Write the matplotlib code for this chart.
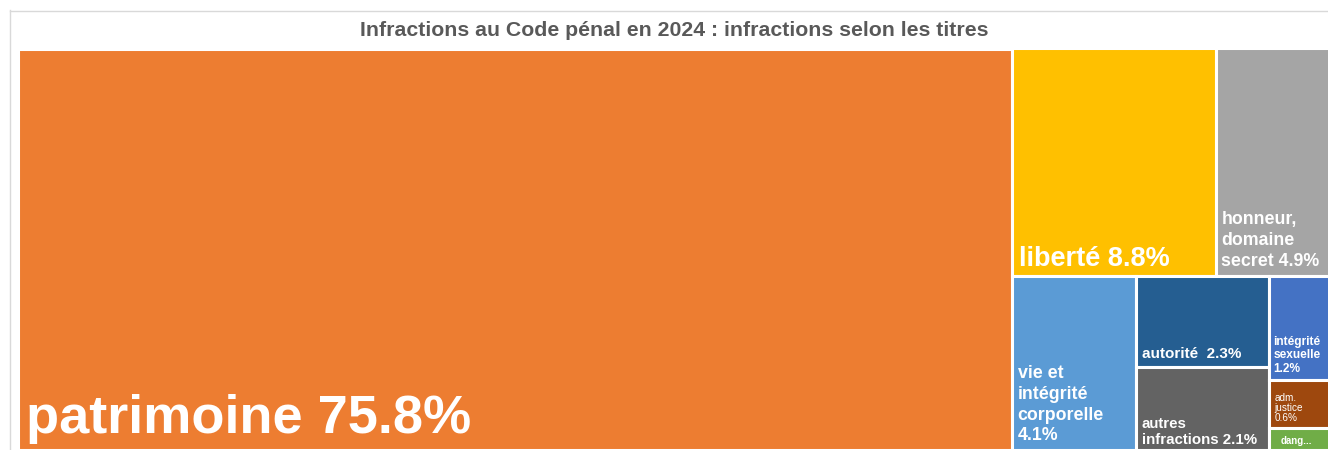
import matplotlib
matplotlib.use("Agg")
import matplotlib.pyplot as plt
from matplotlib.patches import Rectangle
from matplotlib.lines import Line2D

plt.rcParams['font.family'] = ['Liberation Sans', 'DejaVu Sans']

title = "Infractions au Code pénal en 2024 : infractions selon les titres"
names = ["patrimoine", "liberté", "honneur, domaine secret", "vie et intégrité corporelle",
         "autorité", "autres infractions", "intégrité sexuelle", "adm. justice", "dang..."]
values = [75.8, 8.8, 4.9, 4.1, 2.3, 2.1, 1.2, 0.55, 0.25]
labels = ["patrimoine 75.8%", "liberté 8.8%", "honneur,\ndomaine\nsecret 4.9%",
          "vie et\nintégrité\ncorporelle\n4.1%", "autorité  2.3%", "autres\ninfractions 2.1%",
          "intégrité\nsexuelle\n1.2%", "adm.\njustice\n0.6%", "dang..."]
colors = ["#ED7D31", "#FFC000", "#A5A5A5", "#5B9BD5", "#255E91", "#636363",
          "#4472C4", "#9E480E", "#70AD47"]
fsizes = [39, 19.5, 12.8, 12.8, 11, 10.8, 8.6, 7.2, 7]
weights = ["bold"] * 7 + ["normal", "bold"]
spacings = [1.2, 1.2, 1.3, 1.3, 1.2, 1.22, 1.15, 0.95, 1.2]
pads = [(6, 4), (5, 3), (4, 4), (4, 4), (4, 4), (4, 2), (3, 4), (4, 4), (8, 3)]

# nested slice structure (indices into values): ('h' = side by side, 'v' = stacked top->bottom)
structure = ('h', [0, ('v', [('h', [1, 2]), ('h', [3, ('v', [4, 5]), ('v', [6, 7, 8])])])])


def total(node):
    if isinstance(node, int):
        return values[node]
    return sum(total(c) for c in node[1])


def layout(node, x, y, w, h, out):
    if isinstance(node, int):
        out[node] = (x, y, w, h)
        return
    kind, children = node
    s = total(node)
    if kind == 'h':
        cx = x
        for c in children:
            cw = w * total(c) / s
            layout(c, cx, y, cw, h, out)
            cx += cw
    else:
        cy = y + h
        for c in children:
            ch = h * total(c) / s
            cy -= ch
            layout(c, x, cy, w, ch, out)


rects = {}
layout(structure, 0.0, 0.0, 1.0, 1.0, rects)

W, H = 1328, 450
fig = plt.figure(figsize=(W / 100, H / 100), dpi=100)
ax = fig.add_axes([17.5 / W, 0, 1312 / W, 401.5 / H])
ax.set_xlim(0, 1)
ax.set_ylim(0, 1)
ax.axis('off')

for i in range(len(values)):
    x, y, w, h = rects[i]
    ax.add_patch(Rectangle((x, y), w, h, facecolor=colors[i], edgecolor='white', lw=2.2))
    ax.annotate(labels[i], xy=(x, y), xytext=pads[i], textcoords='offset points',
                ha='left', va='bottom', color='white', fontsize=fsizes[i],
                fontweight=weights[i], linespacing=spacings[i], annotation_clip=False)

fig.text(674 / W, 1 - 31 / H, title, ha='center', va='center', fontsize=15.3,
         fontweight='bold', color='#595959')

fig.add_artist(Line2D([9.5 / W, 9.5 / W], [0, 1 - 10 / H], color='#d9d9d9', lw=1))
fig.add_artist(Line2D([9.5 / W, 1], [1 - 10.5 / H, 1 - 10.5 / H], color='#d9d9d9', lw=1))

fig.savefig("out.png", dpi=100)
